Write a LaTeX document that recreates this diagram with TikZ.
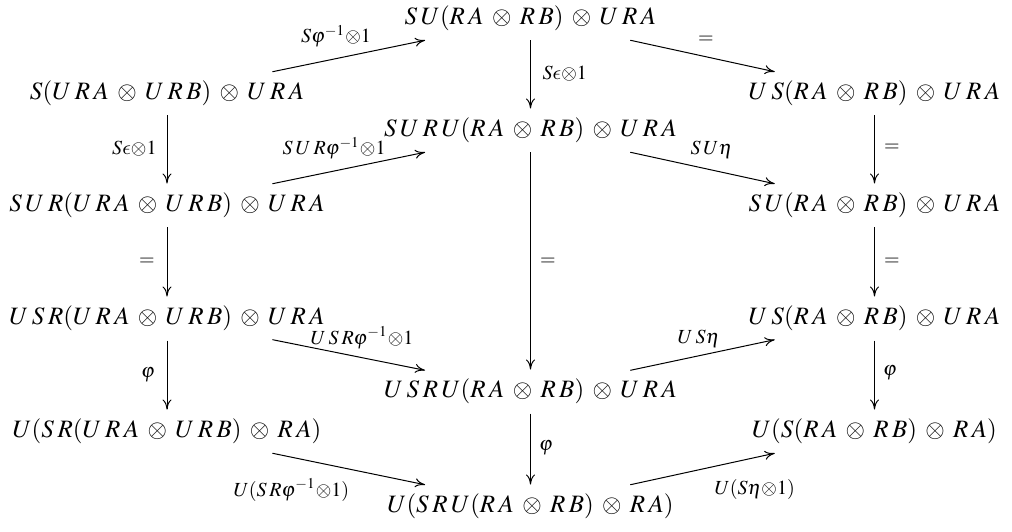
\documentclass[tikz,border=0pt]{standalone}
\usepackage{mathptmx}
\usetikzlibrary{calc,arrows.meta}
\DeclareSymbolFont{cmlet}{OML}{cmm}{m}{it}
\DeclareMathSymbol{\lepsilon}{\mathord}{cmlet}{"0F}
\newcommand\kk{\mkern2.5mu}
\begin{document}
\medmuskip=6mu plus 2mu minus 4mu
\begin{tikzpicture}[x=0.4pt,y=-0.4pt,
  obj/.style={inner xsep=1pt,inner ysep=3.6pt,text height=7.5pt,text depth=2.5pt},
  lab/.style={inner sep=0pt,font=\fontsize{8}{9.6}\selectfont},
  arr/.style={-{To[length=4pt,width=3.6pt]},line width=0.4pt}]
\useasboundingbox (0,0) rectangle (1012,532);
% objects
\node[obj] (A) at (167,93.5)   {$S(U\kk R\kk A\otimes U\kk R\kk B)\otimes U\kk R\kk A$};
\node[obj] (B) at (530.5,18.5) {$S\kk U(R\kk A\otimes R\kk B)\otimes U\kk R\kk A$};
\node[obj] (C) at (874.5,93.5) {$U\kk S(R\kk A\otimes R\kk B)\otimes U\kk R\kk A$};
\node[obj] (D) at (530.5,130.5){$S\kk U\kk R\kk U(R\kk A\otimes R\kk B)\otimes U\kk R\kk A$};
\node[obj] (E) at (167,205.5)  {$S\kk U\kk R(U\kk R\kk A\otimes U\kk R\kk B)\otimes U\kk R\kk A$};
\node[obj] (F) at (874.5,205.5){$S\kk U(R\kk A\otimes R\kk B)\otimes U\kk R\kk A$};
\node[obj] (G) at (167,318.5)  {$U\kk S\kk R(U\kk R\kk A\otimes U\kk R\kk B)\otimes U\kk R\kk A$};
\node[obj] (H) at (874.5,318.5){$U\kk S(R\kk A\otimes R\kk B)\otimes U\kk R\kk A$};
\node[obj] (I) at (530.5,391.5){$U\kk S\kk R\kk U(R\kk A\otimes R\kk B)\otimes U\kk R\kk A$};
\node[obj] (J) at (167,431.5)  {$U(S\kk R(U\kk R\kk A\otimes U\kk R\kk B)\otimes R\kk A)$};
\node[obj] (K) at (874.5,431.5){$U(S(R\kk A\otimes R\kk B)\otimes R\kk A)$};
\node[obj] (L) at (530.5,506.5){$U(S\kk R\kk U(R\kk A\otimes R\kk B)\otimes R\kk A)$};
% diagonal arrows
\draw[arr] ($(A)!0.29!(B)$) -- ($(A)!0.71!(B)$);
\draw[arr] ($(B)!0.29!(C)$) -- ($(B)!0.71!(C)$);
\draw[arr] ($(E)!0.29!(D)$) -- ($(E)!0.71!(D)$);
\draw[arr] ($(D)!0.29!(F)$) -- ($(D)!0.71!(F)$);
\draw[arr] ($(G)!0.29!(I)$) -- ($(G)!0.71!(I)$);
\draw[arr] ($(I)!0.29!(H)$) -- ($(I)!0.71!(H)$);
\draw[arr] ($(J)!0.29!(L)$) -- ($(J)!0.71!(L)$);
\draw[arr] ($(L)!0.29!(K)$) -- ($(L)!0.71!(K)$);
% vertical arrows
\draw[arr] (A.south) -- (E.north);
\draw[arr] (E.south) -- (G.north);
\draw[arr] (G.south) -- (J.north);
\draw[arr] (B.south) -- (D.north);
\draw[arr] (D.south) -- (I.north);
\draw[arr] (I.south) -- (L.north);
\draw[arr] (C.south) -- (F.north);
\draw[arr] (F.south) -- (H.north);
\draw[arr] (H.south) -- (K.north);
% labels
\node[lab,anchor=base] (l1) at (336,43)  {$S\varphi^{-1}{\otimes}1$};
\node[lab] (l2) at (706,40) {$=$};
\node[lab,anchor=base west] (l3) at (542,80)  {$S\lepsilon{\otimes}1$};
\node[lab,anchor=base east] (l4) at (157,155) {$S\lepsilon{\otimes}1$};
\node[lab,anchor=base east] (l5) at (386,155) {$S\kk U\kk R\varphi^{-1}{\otimes}1$};
\node[lab,anchor=base west] (l6) at (690,155) {$S\kk U\eta$};
\node[lab] (l7) at (892,148) {$=$};
\node[lab] (l8) at (147,262) {$=$};
\node[lab] (l9) at (548,262) {$=$};
\node[lab] (l10) at (892,262) {$=$};
\node[lab,anchor=base west] (l11) at (310,344) {$U\kk S\kk R\varphi^{-1}{\otimes}1$};
\node[lab,anchor=base west] (l12) at (677,343) {$U\kk S\eta$};
\node[lab] (l13) at (148,375) {$\varphi$};
\node[lab] (l14) at (546,448) {$\varphi$};
\node[lab] (l15) at (890,373) {$\varphi$};
\node[lab,anchor=base west] (l16) at (233,496) {$U(S\kk R\varphi^{-1}{\otimes}1)$};
\node[lab,anchor=base west] (l17) at (714,494) {$U(S\eta{\otimes}1)$};
\end{tikzpicture}
\end{document}
